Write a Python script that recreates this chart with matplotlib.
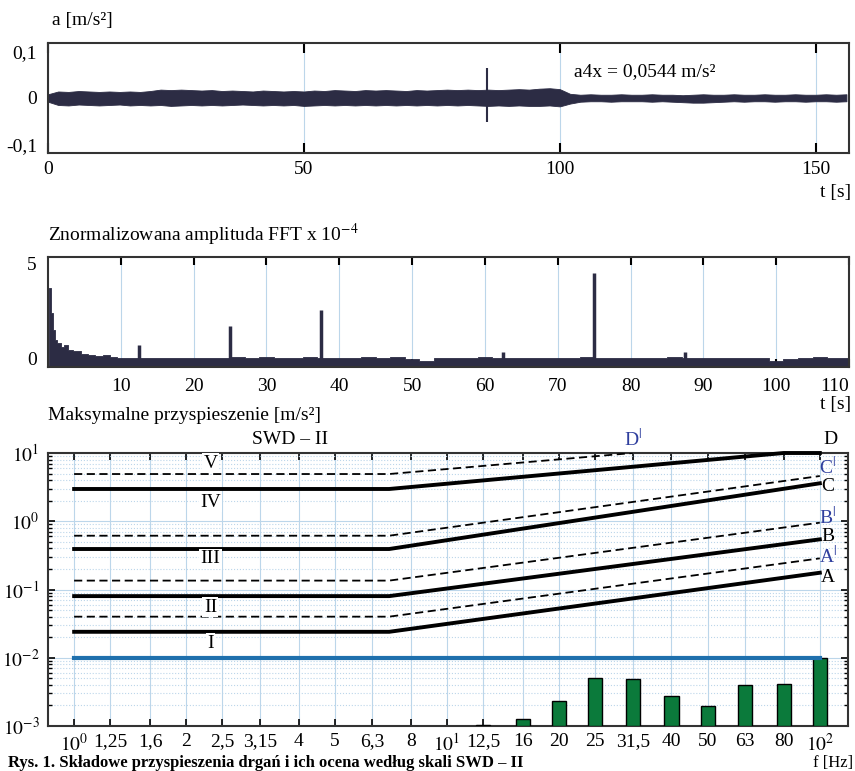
import matplotlib
matplotlib.use('Agg')
import matplotlib.pyplot as plt
import numpy as np
from matplotlib.ticker import LogLocator, NullFormatter, NullLocator

plt.rcParams['font.family'] = ['Liberation Serif', 'DejaVu Serif']
plt.rcParams['mathtext.fontset'] = 'stix'
plt.rcParams['font.size'] = 14

# --- panel 1: acceleration record (envelope of the noise band, x 1e-3 m/s2)
t_env = list(range(0, 157, 2))
a_up = [8, 14, 13, 15, 14, 13, 14, 13, 14, 13,
        15, 18, 17, 18, 17, 16, 17, 15, 16, 15,
        14, 16, 15, 14, 15, 14, 16, 15, 17, 16,
        15, 17, 16, 17, 16, 15, 17, 16, 17, 18,
        17, 18, 17, 18, 17, 18, 19, 18, 20, 21,
        19, 9, 7, 8, 7, 7, 8, 7, 7, 8,
        7, 7, 6, 7, 8, 7, 7, 8, 7, 7,
        8, 7, 7, 8, 7, 7, 8, 7, 8]
a_lo = [-8, -15, -16, -14, -15, -16, -15, -14, -16, -15,
        -16, -15, -17, -16, -15, -16, -15, -16, -15, -14,
        -15, -16, -15, -16, -15, -17, -16, -15, -16, -15,
        -16, -15, -16, -15, -16, -15, -16, -15, -16, -15,
        -16, -15, -16, -17, -16, -17, -16, -17, -17, -16,
        -18, -12, -8, -7, -7, -8, -7, -7, -7, -8,
        -7, -8, -9, -10, -10, -9, -8, -7, -8, -7,
        -7, -8, -7, -7, -8, -7, -7, -8, -7]
spike_t = 85.7
spike_lo, spike_hi = -0.052, 0.065

# --- panel 2: normalised FFT amplitude (x 1e-4)
fft_f = [0.1, 0.3, 0.5, 0.8, 1, 1.5, 2, 2.5, 3, 4, 5, 6, 7, 8, 9, 10,
         12, 14, 16, 18, 20, 22, 24, 26, 28, 30, 32, 34, 36, 38, 40,
         42, 44, 46, 48, 50, 52, 54, 56, 58, 60, 62, 64, 66, 68, 70,
         72, 74, 76, 78, 80, 82, 84, 86, 88, 90, 92, 94, 96, 98, 100,
         102, 104, 106, 108, 110]
fft_a = [1.0, 3.7, 2.4, 1.5, 1.0, 0.8, 0.6, 0.7, 0.45, 0.4, 0.25, 0.2, 0.15, 0.2, 0.1, 0.05,
         0.05, 0.0, 0.05, 0.02, 0.0, 0.05, 0.02, 0.08, 0.03, 0.06, 0.02, 0.05, 0.08, 0.03, 0.0,
         0.02, 0.08, 0.02, 0.1, -0.05, -0.12, 0.0, 0.05, 0.02, 0.06, 0.03, 0.05, 0.02, 0.04, 0.05,
         0.02, 0.06, 0.03, 0.05, 0.02, 0.04, 0.03, 0.08, 0.02, 0.01, 0.05, 0.02, 0.0, 0.04, -0.15,
         -0.05, 0.03, 0.08, 0.05, 0.03]
peak_f = [12.5, 25, 37.5, 62.5, 75, 87.5]
peak_a = [0.71, 1.71, 2.56, 0.34, 4.5, 0.34]

# --- panel 3: SWD-II limit lines and measured 1/3-octave maxima
lim_f = [1, 7, 100]
line_A = [0.024, 0.024, 0.176]
line_B = [0.080, 0.080, 0.543]
line_C = [0.392, 0.392, 3.6]
line_D_f = [1, 7, 80, 100]
line_D = [2.97, 2.97, 10.0, 10.0]
dash_A = [0.040, 0.040, 0.286]
dash_B = [0.135, 0.135, 0.953]
dash_C = [0.614, 0.614, 4.6]
dash_D_f = [1, 7, 31.5]
dash_D = [4.92, 4.92, 10.0]
ref_level = 0.01

band_f = [12.5, 16, 20, 25, 31.5, 40, 50, 63, 80, 100]
band_a = [1.03e-3, 1.25e-3, 2.35e-3, 5.05e-3, 4.83e-3, 2.78e-3, 1.96e-3, 3.99e-3, 4.17e-3, 1.0e-2]

f_ticks = [1, 1.25, 1.6, 2, 2.5, 3.15, 4, 5, 6.3, 8, 10, 12.5, 16, 20, 25, 31.5, 40, 50, 63, 80, 100]
f_labels = ['$10^0$', '1,25', '1,6', '2', '2,5', '3,15', '4', '5', '6,3', '8', '$10^1$',
            '12,5', '16', '20', '25', '31,5', '40', '50', '63', '80', '$10^2$']
y_ticks = [1e-3, 1e-2, 1e-1, 1e0, 1e1]
y_labels = ['$10^{-3}$', '$10^{-2}$', '$10^{-1}$', '$10^{0}$', '$10^{1}$']

W, H = 855, 771
dark = '#2c2c44'
gridc = '#bcd6ea'
spc = '#333333'
blue_txt = '#2f3f9e'


def fx(x):
    return x / W


def fy(y):
    return 1 - y / H


def frame(ax):
    for s in ax.spines.values():
        s.set_color(spc)
        s.set_linewidth(1.5)


fig = plt.figure(figsize=(W / 100, H / 100), dpi=100)

# panel 1
ax1 = fig.add_axes([fx(48), fy(153), 801 / W, 110 / H])
ax1.set_axisbelow(True)
ax1.fill_between(t_env, np.array(a_lo) * 1e-3, np.array(a_up) * 1e-3, color=dark, lw=0.6)
ax1.vlines(spike_t, spike_lo, spike_hi, color=dark, lw=1.5)
ax1.set_xlim(0, 156.5)
ax1.set_ylim(-0.118, 0.118)
ax1.set_xticks([0, 50, 100, 150])
ax1.set_yticks([-0.1, 0, 0.1])
ax1.set_yticklabels(['-0,1', '0', '0,1'])
ax1.grid(axis='x', color=gridc, lw=0.8)
ax1.tick_params(axis='x', direction='in', top=True, length=7, width=1.5, pad=6)
ax1.tick_params(axis='y', length=0, pad=8)
frame(ax1)
ax1.text(102.7, 0.056, 'a4x = 0,0544 m/s²', ha='left', va='center')
fig.text(fx(52), fy(20), 'a [m/s²]', ha='left', va='center')
fig.text(fx(851), fy(192), 't [s]', ha='right', va='center')

# panel 2
ax2 = fig.add_axes([fx(48), fy(367), 801 / W, 110 / H])
ax2.set_axisbelow(True)
ax2.fill_between(fft_f, -0.45, fft_a, step='mid', color=dark, lw=0.6)
ax2.vlines(peak_f, -0.45, peak_a, color=dark, lw=2.5)
ax2.set_xlim(0, 110)
ax2.set_ylim(-0.45, 5.35)
ax2.set_xticks(list(range(10, 111, 10)))
ax2.set_yticks([0, 5])
ax2.grid(axis='x', color=gridc, lw=0.8)
ax2.tick_params(axis='x', direction='in', top=True, length=6, width=1.5, pad=8)
ax2.tick_params(axis='y', length=0, pad=8)
ax2.get_xticklabels()[-1].set_horizontalalignment('right')
frame(ax2)
fig.text(fx(48), fy(235), 'Znormalizowana amplituda FFT x 10$^{-4}$', ha='left', va='center')
fig.text(fx(851), fy(405), 't [s]', ha='right', va='center')

# panel 3
ax3 = fig.add_axes([fx(48), fy(726), 800 / W, 273 / H])
ax3.set_xscale('log')
ax3.set_yscale('log')
ax3.set_axisbelow(True)
bf = np.array(band_f)
ax3.bar(bf * 10 ** -0.019, np.array(band_a) - 1e-3, width=bf * (10 ** 0.019 - 10 ** -0.019),
        bottom=1e-3, align='edge', color='#0b7a3b', edgecolor='black', lw=1, zorder=3)
ax3.plot([1, 100], [ref_level, ref_level], color='#1f70ad', lw=3, zorder=4)
for yy in (line_A, line_B, line_C):
    ax3.plot(lim_f, yy, color='black', lw=2.8, zorder=4)
ax3.plot(line_D_f, line_D, color='black', lw=2.8, zorder=4, clip_on=False)
for yy in (dash_A, dash_B, dash_C):
    ax3.plot(lim_f, yy, color='black', lw=1.3, ls=(0, (4.5, 2.5)), zorder=4)
ax3.plot(dash_D_f, dash_D, color='black', lw=1.3, ls=(0, (4.5, 2.5)), zorder=4)
ax3.set_xlim(0.851, 119)
ax3.set_ylim(1e-3, 1e1)
ax3.set_xticks(f_ticks)
ax3.set_xticklabels(f_labels)
ax3.xaxis.set_minor_locator(NullLocator())
ax3.set_yticks(y_ticks)
ax3.set_yticklabels(y_labels)
ax3.yaxis.set_minor_locator(LogLocator(base=10, subs=range(2, 10)))
ax3.yaxis.set_minor_formatter(NullFormatter())
ax3.grid(which='major', color=gridc, lw=0.8)
ax3.grid(which='minor', axis='y', color=gridc, lw=0.8, ls=':')
ax3.tick_params(which='major', direction='in', top=True, right=True, length=5, width=1.2)
ax3.tick_params(which='minor', direction='in', right=True, length=3, width=1)
ax3.tick_params(axis='x', pad=5)
ax3.tick_params(axis='y', pad=6)
frame(ax3)

box = dict(fc='white', ec='none', pad=1)
for lab, yv in zip(['V', 'IV', 'III', 'II', 'I'], [7.1, 1.91, 0.28, 0.0554, 0.0164]):
    ax3.text(2.32, yv, lab, ha='center', va='center', bbox=box, zorder=5)
for lab, yv, col in [('D', 16, 'black'), ('C$^{|}$', 6.24, blue_txt), ('C', 3.18, 'black'),
                     ('B$^{|}$', 1.15, blue_txt), ('B', 0.588, 'black'),
                     ('A$^{|}$', 0.31, blue_txt), ('A', 0.152, 'black')]:
    ax3.text(107 if lab == 'D' else 105, yv, lab, ha='center', va='center', color=col,
             clip_on=False, zorder=5)
ax3.text(31.5, 16, 'D$^{|}$', ha='center', va='center', color=blue_txt, clip_on=False)
fig.text(fx(48), fy(415), 'Maksymalne przyspieszenie [m/s²]', ha='left', va='center')
fig.text(fx(290), fy(440), 'SWD – II', ha='center', va='center')
fig.text(fx(853), fy(767), 'f [Hz]', ha='right', va='baseline', fontsize=12)
fig.text(fx(8), fy(767), 'Rys. 1. Składowe przyspieszenia drgań i ich ocena według skali SWD – II',
         ha='left', va='baseline', fontweight='bold', fontsize=12)

fig.savefig('out.png', dpi=100, facecolor='white')
